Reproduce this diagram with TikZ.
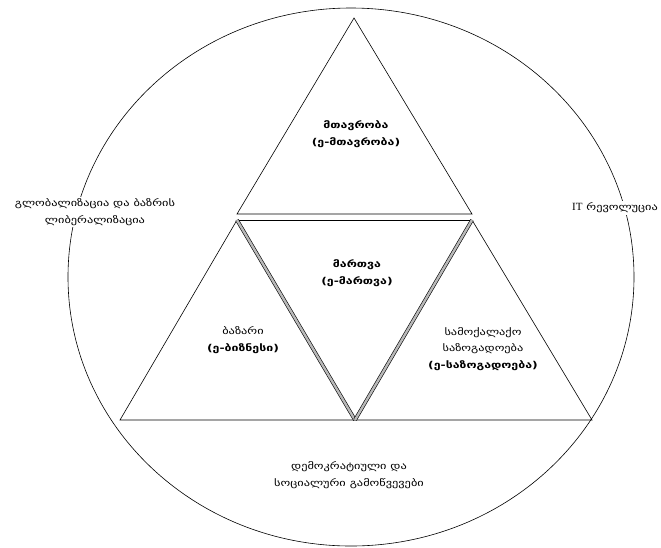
\documentclass[tikz,border=0pt]{standalone}
\usepackage{fontspec}
\setmainfont{Liberation Serif}
\newfontfamily\geo[FakeStretch=1.3]{DejaVu Sans}
\tikzset{
  lbl/.style={align=center, inner sep=1pt, font=\geo\fontsize{9.5}{16.5}\selectfont},
  bl/.style={lbl, font=\geo\bfseries\fontsize{9.5}{16.5}\selectfont},
  side/.style={fill=white, inner sep=2pt, align=center, font=\geo\fontsize{9.5}{16.5}\selectfont},
  edge/.style={line width=0.6pt},
  dbl/.style={line width=0.6pt, double=gray!55, double distance=2.4pt}
}
\begin{document}
\begin{tikzpicture}[x=1pt,y=-1pt]
\useasboundingbox (0,0) rectangle (661,547);
% outer ellipse
\draw[edge] (351,277) ellipse [x radius=283, y radius=269];
% vertices
\coordinate (A) at (354,18);
\coordinate (B1) at (237,214);
\coordinate (C1) at (472,214);
\coordinate (B2) at (237,220);
\coordinate (C2) at (472,220);
\coordinate (L) at (120,420);
\coordinate (M) at (355,420);
\coordinate (R) at (592,420);
% top triangle
\draw[edge, line join=miter] (A) -- (C1) -- (B1) -- cycle;
% top of middle triangle
\draw[edge] (B2) -- (C2);
% left and right triangles outer sides and base
\draw[edge] (B2) -- (L) -- (R) -- (C2);
% middle triangle sides (double)
\draw[dbl] (B2) -- (M);
\draw[dbl] (C2) -- (M);
% texts
\node[bl] (top) at (356,134) {მთავრობა\\(ე-მთავრობა)};
\node[bl] (mid) at (357,273) {მართვა\\(ე-მართვა)};
\node[lbl] (left) at (243,340) {ბაზარი\\\textbf{(ე-ბიზნესი)}};
\node[lbl] (right) at (483,349) {სამოქალაქო\\საზოგადოება\\\textbf{(ე-საზოგადოება)}};
\node[lbl] (bottom) at (349,475) {დემოკრატიული და\\სოციალური გამოწვევები};
\node[side] (glob) at (95,212) {გლობალიზაცია და ბაზრის\\ლიბერალიზაცია};
\node[side] (it) at (615,208) {{\rmfamily\fontsize{11}{12}\selectfont IT} რევოლუცია};
\end{tikzpicture}
\end{document}
